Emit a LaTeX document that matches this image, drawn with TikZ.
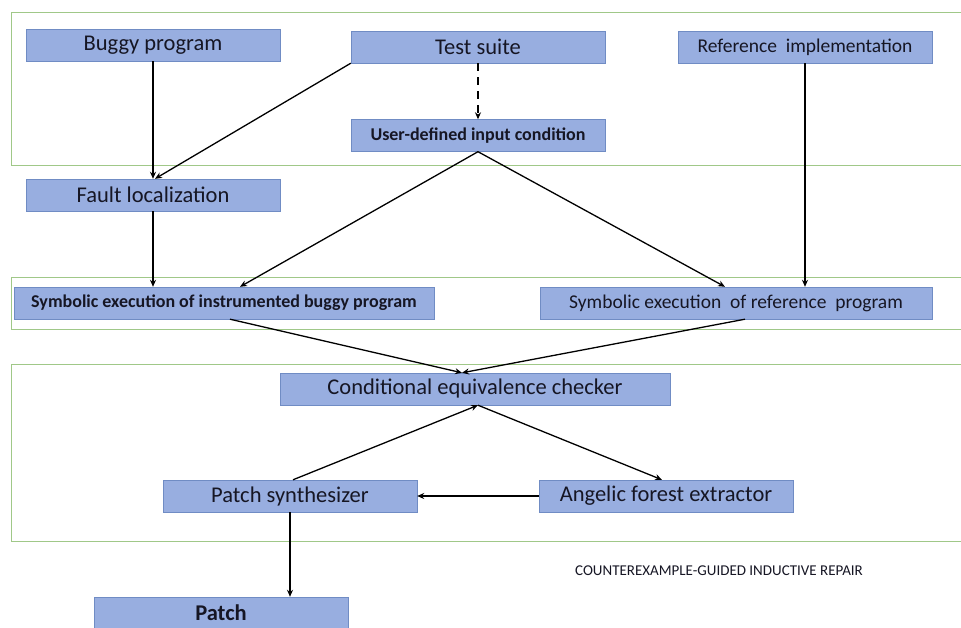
\documentclass[tikz,border=0pt]{standalone}
\usepackage{fontspec}
\setmainfont{Carlito}
\usetikzlibrary{arrows.meta}

\definecolor{boxfill}{RGB}{152,174,224}
\definecolor{boxline}{RGB}{112,140,196}
\definecolor{framegreen}{RGB}{160,200,136}
\definecolor{boxtext}{RGB}{22,22,36}

\begin{document}
\begin{tikzpicture}[x=1pt,y=-1pt,>={Stealth[length=7pt,width=6pt]},
  box/.style={draw=boxline, fill=boxfill, text=boxtext, minimum width=254pt,
    minimum height=32pt, inner sep=0pt, font=\fontsize{22.5}{26}\selectfont},
  boldbox/.style={box, font=\fontsize{18}{21}\selectfont\bfseries},
  frame/.style={draw=framegreen, line width=0.8pt},
  flow/.style={->, line width=1.3pt}]
\useasboundingbox (0,0) rectangle (961,628);

% stage frames
\draw[frame] (11,12) rectangle (975,165);
\draw[frame] (11,277) rectangle (975,329);
\draw[frame] (11,364) rectangle (975,541);

% inputs
\node[box] (buggy) at (153,45) {Buggy program};
\node[box] (tests) at (478,47) {Test suite};
\node[box, font=\fontsize{19.5}{23}\selectfont] (refimpl) at (805,47) {Reference\ \ implementation};
\node[boldbox] (cond) at (478,135.5) {User-defined input condition};
\node[box] (fault) at (153,195) {Fault localization};

% symbolic execution
\node[boldbox, minimum width=420pt] (symbug) at (224,303) {Symbolic execution of instrumented buggy program};
\node[box, minimum width=392pt, font=\fontsize{19.5}{23}\selectfont] (symref) at (736,303) {Symbolic execution\ \ of reference\ \ program};

% CEGIR loop
\node[box, minimum width=390pt] (cec) at (475,389) {Conditional equivalence checker};
\node[box] (synth) at (290,496) {Patch synthesizer};
\node[box] (angelic) at (666,496) {Angelic forest extractor};
\node[font=\fontsize{15}{18}\selectfont, text=boxtext] (cegir) at (719,571) {COUNTEREXAMPLE-GUIDED INDUCTIVE REPAIR};

\node[boldbox, font=\fontsize{22.5}{26}\selectfont\bfseries] (patch) at (221,613) {Patch};

\draw[flow] (buggy.south) -- (fault.north);
\draw[flow] (tests.south west) -- ([xshift=2pt]fault.north);
\draw[flow, dash pattern=on 8pt off 6pt] (tests.south) -- (cond.north);
\draw[flow] (cond.south) -- ([xshift=16pt]symbug.north);
\draw[flow] (cond.south) -- ([xshift=-11pt]symref.north);
\draw[flow] (refimpl.south) -- (refimpl.south |- symref.north);
\draw[flow] (fault.south) -- (fault.south |- symbug.north);
\draw[flow] ([xshift=6pt]symbug.south) -- ([xshift=-13pt]cec.north);
\draw[flow] ([xshift=9pt]symref.south) -- ([xshift=-13pt]cec.north);
\draw[flow] ([xshift=3pt]synth.north) -- ([xshift=3pt]cec.south);
\draw[flow] ([xshift=3pt]cec.south) -- ([xshift=-4pt]angelic.north);
\draw[flow] (angelic.west) -- (synth.east);
\draw[flow] (synth.south) -- (synth.south |- patch.north);
\end{tikzpicture}
\end{document}
